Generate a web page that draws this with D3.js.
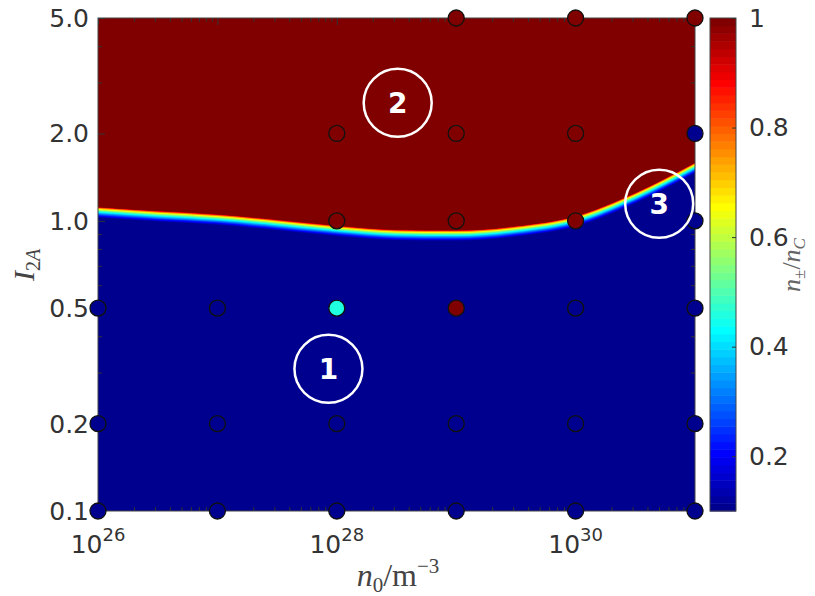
<!DOCTYPE html>
<html>
<head>
<meta charset="utf-8">
<script src="https://cdn.jsdelivr.net/npm/d3@7"></script>
<style>
  body { margin: 0; background: #fff; }
  .tick text { font-family: "DejaVu Sans", sans-serif; }
</style>
</head>
<body>
<svg id="chart"></svg>
<script>
// Red/blue boundary (upper edge of the transition band)
const boundaryLogN = [26, 26.5, 27, 27.5, 28, 28.5, 29, 29.5, 30, 30.5, 31];
const boundaryI    = [1.117, 1.083, 1.054, 1.01, 0.964, 0.933, 0.929, 0.96, 1.04, 1.25, 1.59];

// Simulation points: log10(n0), I_2A, n±/nC
const pointLogN  = [26, 26, 26,  27, 27, 27,  28, 28, 28, 28, 28,  29, 29, 29, 29, 29, 29,  30, 30, 30, 30, 30, 30,  31, 31, 31, 31, 31, 31];
const pointI     = [0.1, 0.2, 0.5,  0.1, 0.2, 0.5,  0.1, 0.2, 0.5, 1, 2,  0.1, 0.2, 0.5, 1, 2, 5,  0.1, 0.2, 0.5, 1, 2, 5,  0.1, 0.2, 0.5, 1, 2, 5];
const pointValue = [0.1, 0.1, 0.1,  0.1, 0.1, 0.1,  0.1, 0.1, 0.46, 1, 1,  0.1, 0.1, 1, 1, 1, 1,  0.1, 0.1, 0.1, 1, 1, 1,  0.1, 0.1, 0.1, 0.1, 0.1, 1];

// Region annotations
const annoLabels = ['1', '2', '3'];
const annoLogN   = [27.93, 28.51, 30.70];
const annoI      = [0.309, 2.55, 1.145];

// Axis ticks
const xMajorExp   = [26, 27, 28, 29, 30, 31];
const xLabelExp   = [26, 28, 30];
const yMajor      = [0.1, 0.2, 0.5, 1, 2, 5];
const cbarTicks   = [0.2, 0.4, 0.6, 0.8, 1];
const cbarDomain  = [0.1, 1];

const margin = { top: 18, left: 98 };
const width = 597, height = 493;
const W = 815, H = 596;

// MATLAB style jet(64)
function jetMap(m) {
  const n = Math.ceil(m / 4);
  const u = [];
  for (let i = 1; i <= n; i++) u.push(i / n);
  for (let i = 1; i < n; i++) u.push(1);
  for (let i = n; i >= 1; i--) u.push(i / n);
  const g0 = Math.ceil(n / 2) - (m % 4 === 1 ? 1 : 0);
  const cols = d3.range(m).map(() => [0, 0, 0]);
  u.forEach((val, p) => {
    const gi = g0 + p + 1, ri = gi + n, bi = gi - n;
    if (ri >= 1 && ri <= m) cols[ri - 1][0] = val;
    if (gi >= 1 && gi <= m) cols[gi - 1][1] = val;
    if (bi >= 1 && bi <= m) cols[bi - 1][2] = val;
  });
  return cols.map(c => d3.rgb(c[0] * 255, c[1] * 255, c[2] * 255).formatHex());
}
const jet = jetMap(64);
const colorIndex = v => Math.max(0, Math.min(63, Math.floor((v - cbarDomain[0]) / (cbarDomain[1] - cbarDomain[0]) * 64)));
const color = v => jet[colorIndex(v)];

const svg = d3.select('#chart').attr('width', W).attr('height', H);

const x = d3.scaleLog().domain([1e26, 1e31]).range([0, width]);
const y = d3.scaleLog().domain([0.1, 5]).range([height, 0]);

const chart = svg.append('g').attr('transform', `translate(${margin.left},${margin.top})`);

chart.append('clipPath').attr('id', 'plot-clip')
  .append('rect').attr('width', width).attr('height', height);

// Heat map: blue background, then stacked areas forming the transition band
const heat = chart.append('g').attr('clip-path', 'url(#plot-clip)');
heat.append('rect').attr('width', width).attr('height', height).attr('fill', jet[0]);

const boundary = boundaryLogN.map((n, i) => ({ n: Math.pow(10, n), I: boundaryI[i] }));
const bandWidth = 11;
for (let k = 0; k < 64; k++) {
  const off = bandWidth * Math.pow(1 - k / 63, 1.6);
  const area = d3.area()
    .x(d => x(d.n))
    .y0(0)
    .y1(d => y(d.I) + off)
    .curve(d3.curveMonotoneX);
  heat.append('path').datum(boundary).attr('d', area).attr('fill', jet[k]);
}

// Axes: ticks pointing inward on all four sides
const xMajor = xMajorExp.map(e => Math.pow(10, e));
const xMinor = x.ticks().filter(t => !xMajor.some(m => Math.abs(m - t) / m < 1e-6));
const yMinor = y.ticks().filter(t => !yMajor.some(m => Math.abs(m - t) / m < 1e-6));
const majorLen = 7, minorLen = 4;

function tickAxis(axisFn, scale, values, len, transform) {
  const g = chart.append('g').attr('transform', transform || null)
    .call(axisFn(scale).tickValues(values).tickSize(-len).tickFormat(''));
  g.select('.domain').remove();
  g.selectAll('.tick line').attr('stroke', '#333');
  return g;
}
tickAxis(d3.axisBottom, x, xMajor, majorLen, `translate(0,${height})`);
tickAxis(d3.axisBottom, x, xMinor, minorLen, `translate(0,${height})`);
tickAxis(d3.axisTop, x, xMajor, majorLen);
tickAxis(d3.axisTop, x, xMinor, minorLen);
tickAxis(d3.axisLeft, y, yMajor, majorLen);
tickAxis(d3.axisLeft, y, yMinor, minorLen);
tickAxis(d3.axisRight, y, yMajor, majorLen, `translate(${width},0)`);
tickAxis(d3.axisRight, y, yMinor, minorLen, `translate(${width},0)`);

chart.append('rect').attr('width', width).attr('height', height)
  .attr('fill', 'none').attr('stroke', '#444').attr('stroke-width', 1);

// y tick labels
chart.append('g').selectAll('text').data(yMajor).join('text')
  .attr('x', -9).attr('y', d => y(d)).attr('dy', '0.36em')
  .attr('text-anchor', 'end')
  .style('font-family', '"DejaVu Sans", sans-serif').style('font-size', '25px').style('fill', '#333')
  .text(d => d3.format('.1f')(d));

// x tick labels 10^n
const xl = chart.append('g').selectAll('text').data(xLabelExp).join('text')
  .attr('x', d => x(Math.pow(10, d))).attr('y', height + 42)
  .attr('text-anchor', 'middle')
  .style('font-family', '"DejaVu Sans", sans-serif').style('font-size', '25px').style('fill', '#333');
xl.append('tspan').text('10');
xl.append('tspan').attr('dy', -12).style('font-size', '18px').text(d => d);

// Simulation points
chart.append('g').selectAll('circle')
  .data(pointLogN.map((n, i) => ({ n: Math.pow(10, n), I: pointI[i], v: pointValue[i] })))
  .join('circle')
  .attr('cx', d => x(d.n)).attr('cy', d => y(d.I)).attr('r', 8)
  .attr('fill', d => color(d.v))
  .attr('stroke', '#111').attr('stroke-width', 1.3);

// Region annotations
const anno = chart.append('g').selectAll('g')
  .data(annoLabels.map((l, i) => ({ l, n: Math.pow(10, annoLogN[i]), I: annoI[i] })))
  .join('g')
  .attr('transform', d => `translate(${x(d.n)},${y(d.I)})`);
anno.append('circle').attr('r', 34).attr('fill', 'none').attr('stroke', '#fff').attr('stroke-width', 2.5);
anno.append('text').attr('text-anchor', 'middle').attr('dy', '0.36em')
  .style('font-family', '"DejaVu Sans", sans-serif').style('font-weight', 'bold')
  .style('font-size', '28px').style('fill', '#fff')
  .text(d => d.l);

// Axis titles
const serif = '"Liberation Serif", "DejaVu Serif", serif';
const xt = svg.append('text').attr('x', 398).attr('y', 586).attr('text-anchor', 'middle')
  .style('font-family', serif).style('font-size', '32px').style('fill', '#444');
xt.append('tspan').style('font-style', 'italic').text('n');
xt.append('tspan').attr('dy', 6).style('font-size', '21px').text('0');
xt.append('tspan').attr('dy', -6).text('/m');
xt.append('tspan').attr('dy', -13).style('font-size', '21px').text('−3');

const yt = svg.append('text').attr('transform', 'translate(34,265) rotate(-90)').attr('text-anchor', 'middle')
  .style('font-family', serif).style('font-size', '30px').style('fill', '#444');
yt.append('tspan').style('font-style', 'italic').text('I');
yt.append('tspan').attr('dy', 6).style('font-size', '20px').text('2');
yt.append('tspan').style('font-size', '20px').style('font-style', 'italic').text('A');

// Colorbar
const cbar = svg.append('g').attr('transform', `translate(710,${margin.top})`);
const cbarW = 26;
const cy = d3.scaleLinear().domain(cbarDomain).range([height, 0]);
cbar.selectAll('rect.level').data(d3.range(64)).join('rect')
  .attr('class', 'level')
  .attr('x', 0).attr('width', cbarW)
  .attr('y', k => cy(cbarDomain[0] + (k + 1) / 64 * (cbarDomain[1] - cbarDomain[0])))
  .attr('height', height / 64 + 0.5)
  .attr('fill', k => jet[k]);
cbar.append('rect').attr('width', cbarW).attr('height', height)
  .attr('fill', 'none').attr('stroke', '#444');
const cax = cbar.append('g').attr('transform', `translate(${cbarW},0)`)
  .call(d3.axisRight(cy).tickValues(cbarTicks).tickSize(-4).tickPadding(13).tickFormat(d3.format('~g')));
cax.select('.domain').remove();
cax.selectAll('.tick line').attr('stroke', '#333');
cax.selectAll('.tick text').style('font-size', '25px').style('fill', '#333');

const ct = svg.append('text').attr('transform', 'translate(800,265) rotate(-90)').attr('text-anchor', 'middle')
  .style('font-family', serif).style('font-size', '26px').style('fill', '#666');
ct.append('tspan').style('font-style', 'italic').text('n');
ct.append('tspan').attr('dy', 5).style('font-size', '17px').text('±');
ct.append('tspan').attr('dy', -5).text('/');
ct.append('tspan').style('font-style', 'italic').text('n');
ct.append('tspan').attr('dy', 5).style('font-size', '17px').style('font-style', 'italic').text('C');
</script>
</body>
</html>
